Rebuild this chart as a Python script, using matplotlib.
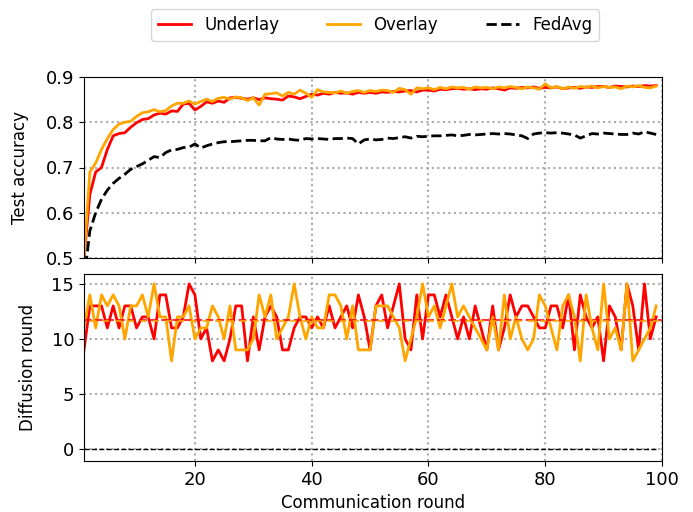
import numpy as np
import matplotlib
matplotlib.use("Agg")
import matplotlib.pyplot as plt

rounds = list(range(1, 100))

acc_underlay = [0.50, 0.64, 0.69, 0.70, 0.74, 0.77, 0.775, 0.777, 0.789, 0.799,
                0.806, 0.808, 0.816, 0.820, 0.818, 0.825, 0.824, 0.840, 0.842, 0.827,
                0.835, 0.845, 0.842, 0.847, 0.844, 0.854, 0.855, 0.853, 0.851, 0.854,
                0.850, 0.854, 0.852, 0.851, 0.849, 0.858, 0.856, 0.852, 0.857, 0.862,
                0.860, 0.864, 0.862, 0.866, 0.864, 0.865, 0.862, 0.866, 0.864, 0.866,
                0.864, 0.867, 0.866, 0.868, 0.867, 0.869, 0.870, 0.867, 0.871, 0.871,
                0.869, 0.873, 0.872, 0.874, 0.875, 0.873, 0.874, 0.872, 0.874, 0.873,
                0.876, 0.874, 0.871, 0.876, 0.875, 0.877, 0.876, 0.878, 0.875, 0.877,
                0.876, 0.878, 0.874, 0.876, 0.877, 0.875, 0.878, 0.877, 0.879, 0.879,
                0.877, 0.880, 0.879, 0.878, 0.880, 0.879, 0.881, 0.880, 0.881]

acc_overlay = [0.50, 0.69, 0.71, 0.74, 0.764, 0.784, 0.796, 0.800, 0.802, 0.813,
               0.821, 0.823, 0.828, 0.823, 0.826, 0.836, 0.842, 0.842, 0.847, 0.840,
               0.846, 0.851, 0.846, 0.853, 0.855, 0.851, 0.856, 0.854, 0.848, 0.854,
               0.838, 0.862, 0.863, 0.865, 0.858, 0.866, 0.862, 0.871, 0.864, 0.855,
               0.872, 0.867, 0.866, 0.865, 0.869, 0.864, 0.868, 0.870, 0.866, 0.870,
               0.868, 0.871, 0.870, 0.866, 0.875, 0.872, 0.862, 0.876, 0.874, 0.876,
               0.872, 0.877, 0.874, 0.878, 0.876, 0.877, 0.873, 0.878, 0.876, 0.877,
               0.874, 0.878, 0.876, 0.879, 0.877, 0.874, 0.878, 0.876, 0.873, 0.885,
               0.876, 0.879, 0.874, 0.878, 0.875, 0.879, 0.877, 0.880, 0.876, 0.879,
               0.877, 0.878, 0.874, 0.880, 0.878, 0.881, 0.877, 0.876, 0.880]

acc_fedavg = [0.45, 0.56, 0.60, 0.63, 0.65, 0.665, 0.676, 0.685, 0.696, 0.702,
              0.708, 0.716, 0.724, 0.722, 0.733, 0.739, 0.740, 0.744, 0.745, 0.752,
              0.743, 0.748, 0.752, 0.755, 0.757, 0.757, 0.758, 0.759, 0.760, 0.760,
              0.759, 0.759, 0.766, 0.763, 0.762, 0.763, 0.761, 0.760, 0.764, 0.763,
              0.764, 0.763, 0.762, 0.764, 0.764, 0.765, 0.764, 0.752, 0.761, 0.763,
              0.761, 0.762, 0.765, 0.764, 0.766, 0.768, 0.765, 0.769, 0.768, 0.769,
              0.770, 0.770, 0.771, 0.772, 0.770, 0.771, 0.773, 0.772, 0.773, 0.774,
              0.775, 0.774, 0.775, 0.774, 0.772, 0.770, 0.764, 0.774, 0.776, 0.777,
              0.776, 0.777, 0.776, 0.774, 0.772, 0.765, 0.770, 0.775, 0.774, 0.776,
              0.775, 0.774, 0.773, 0.773, 0.776, 0.774, 0.779, 0.776, 0.773]

diff_underlay = [9, 13, 13, 13, 11, 13, 11, 13, 13, 11,
                 12, 12, 10, 14, 14, 11, 11, 12, 15, 14,
                 10, 11, 8, 9, 8, 10, 13, 13, 8, 12,
                 9, 12, 13, 12, 9, 9, 11, 12, 12, 11,
                 12, 11, 13, 11, 12, 13, 11, 14, 12, 9,
                 13, 14, 11, 13, 15, 10, 9, 14, 10, 14,
                 14, 12, 14, 12, 10, 12, 10, 13, 11, 9,
                 13, 9, 11, 14, 12, 13, 13, 12, 11, 11,
                 13, 13, 11, 14, 9, 14, 12, 11, 12, 8,
                 13, 12, 9, 15, 13, 9, 15, 10, 12]

diff_overlay = [11, 14, 11, 14, 13, 14, 13, 10, 13, 13,
                14, 12, 15, 12, 12, 8, 12, 12, 13, 10,
                11, 11, 13, 12, 10, 13, 9, 9, 9, 10,
                14, 12, 14, 10, 11, 12, 15, 12, 10, 12,
                11, 11, 14, 14, 13, 10, 13, 9, 9, 9,
                13, 13, 13, 12, 11, 8, 10, 12, 15, 12,
                13, 11, 13, 15, 12, 13, 12, 11, 10, 9,
                12, 9, 14, 10, 12, 10, 9, 10, 14, 13,
                11, 9, 13, 14, 12, 8, 14, 11, 9, 15,
                10, 11, 9, 15, 8, 9, 10, 11, 13]

diff_fedavg = [0] * 99

series_names = ["Underlay", "Overlay", "FedAvg"]
colors = ["red", "orange", "black"]

fig = plt.figure(figsize=(6.93, 5.12), dpi=100)
W, H = 693, 512
def rect(l, t, r, b):
    return [l / W, 1 - b / H, (r - l) / W, (b - t) / H]

ax1 = fig.add_axes(rect(84, 77, 662, 258))
ax2 = fig.add_axes(rect(84, 274, 662, 461), sharex=ax1)

l1, = ax1.plot(rounds, acc_underlay, color=colors[0], lw=2, label=series_names[0])
l2, = ax1.plot(rounds, acc_overlay, color=colors[1], lw=2, label=series_names[1])
l3, = ax1.plot(rounds, acc_fedavg, color=colors[2], lw=2, ls="--", label=series_names[2])
ax1.set_ylim(0.5, 0.9)
ax1.set_yticks([0.5, 0.6, 0.7, 0.8, 0.9])
ax1.set_ylabel("Test accuracy", fontsize=12)
ax1.yaxis.set_label_coords(-0.096, 0.5)
ax1.grid(True, ls=":", lw=1.5, color="#aaaaaa")
ax1.tick_params(labelbottom=False, labelsize=13)

ax2.plot(rounds, diff_underlay, color=colors[0], lw=2)
ax2.plot(rounds, diff_overlay, color=colors[1], lw=2)
ax2.plot(rounds, diff_fedavg, color=colors[2], lw=1, ls="--")
ax2.axhline(np.mean(diff_underlay), color=colors[0], lw=1.5, ls="--", alpha=0.8)
ax2.axhline(np.mean(diff_overlay), color=colors[1], lw=1.5, ls=(3, (3, 3)), alpha=0.8)
ax2.set_ylim(-1.1, 15.9)
ax2.set_yticks([0, 5, 10, 15])
ax2.set_ylabel("Diffusion round", fontsize=12)
ax2.yaxis.set_label_coords(-0.082, 0.5)
ax2.set_xlabel("Communication round", fontsize=12, labelpad=3.5)
ax2.grid(True, ls=":", lw=1.5, color="#aaaaaa")
ax2.tick_params(labelsize=13)
ax2.set_xlim(1, 100)
ax2.set_xticks([20, 40, 60, 80, 100])

fig.legend(handles=[l1, l2, l3], loc="center", bbox_to_anchor=(375 / W, 1 - 25 / H),
           ncol=3, fontsize=12, frameon=True, handlelength=2.0, columnspacing=2.85)

fig.savefig("out.png", dpi=100)
